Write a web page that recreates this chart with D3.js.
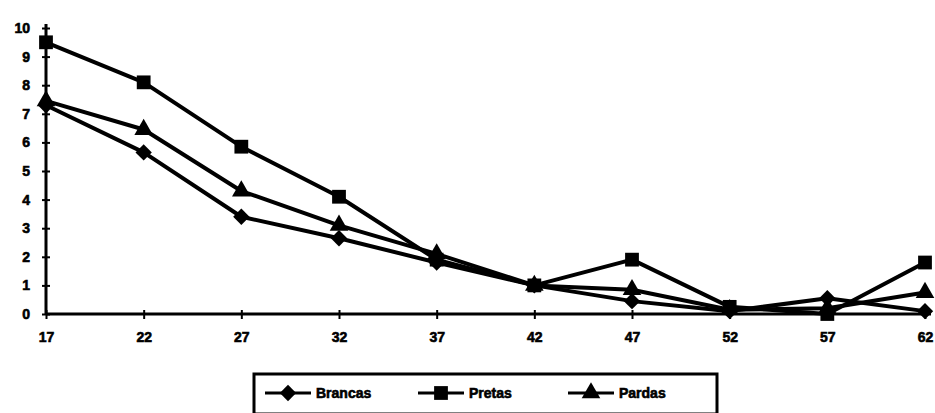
<!DOCTYPE html>
<html>
<head>
<meta charset="utf-8">
<script src="https://cdn.jsdelivr.net/npm/d3@7"></script>
<style>
  html, body { margin: 0; padding: 0; background: #fff; }
  svg { display: block; }
  text { font-family: "Liberation Sans", Arial, sans-serif; font-weight: bold; fill: #000; stroke: #000; stroke-width: 0.6px; }
</style>
</head>
<body>
<svg id="chart" width="935" height="413"></svg>
<script>
// Age groups (x axis)
const ages = ["17", "22", "27", "32", "37", "42", "47", "52", "57", "62"];
// Series values per age group
const brancas = [7.3, 5.65, 3.4, 2.65, 1.8, 1.0, 0.45, 0.1, 0.55, 0.1];
const pretas  = [9.5, 8.1, 5.85, 4.1, 1.9, 1.0, 1.9, 0.25, 0.0, 1.8];
const pardas  = [7.45, 6.45, 4.3, 3.1, 2.1, 1.0, 0.85, 0.15, 0.2, 0.75];
const yTicks = [0, 1, 2, 3, 4, 5, 6, 7, 8, 9, 10];

const series = [
  { name: "Brancas", values: brancas, symbol: d3.symbolDiamond2, size: 170 },
  { name: "Pretas",  values: pretas,  symbol: d3.symbolSquare,  size: 190 },
  { name: "Pardas",  values: pardas,  symbol: d3.symbolTriangle, size: 150 }
];

const svg = d3.select("#chart");
const x = d3.scalePoint().domain(ages).range([46, 925]);
const y = d3.scaleLinear().domain([0, 10]).range([314, 28]);

// Y axis
const yAxis = svg.append("g").attr("transform", "translate(46,0)")
  .call(d3.axisLeft(y).tickValues(yTicks).tickFormat(d3.format("d")).tickSize(4).tickPadding(12));
yAxis.select(".domain").attr("d", `M0,${y(0)}V${y(10) - 4}`).attr("stroke", "#000").attr("stroke-width", 3);
yAxis.selectAll(".tick line").attr("x1", -4).attr("x2", 4).attr("stroke", "#000").attr("stroke-width", 2);
yAxis.selectAll(".tick text").style("font-size", "14px").attr("font-family", null);

// X axis
const xAxis = svg.append("g").attr("transform", `translate(0,${y(0)})`)
  .call(d3.axisBottom(x).tickSize(4).tickPadding(14));
xAxis.select(".domain").attr("d", `M46,0H931`).attr("stroke", "#000").attr("stroke-width", 3);
xAxis.selectAll(".tick line").attr("y1", -4).attr("y2", 5).attr("stroke", "#000").attr("stroke-width", 2);
xAxis.selectAll(".tick text").style("font-size", "14px").attr("font-family", null);

// Lines and markers
const line = d3.line().x((d, i) => x(ages[i])).y(d => y(d));
series.forEach(s => {
  svg.append("path").datum(s.values)
    .attr("d", line).attr("fill", "none").attr("stroke", "#000")
    .attr("stroke-width", 4).attr("stroke-linejoin", "round");
  svg.append("g").selectAll("path").data(s.values).join("path")
    .attr("d", d3.symbol().type(s.symbol).size(s.size))
    .attr("transform", (d, i) => `translate(${x(ages[i])},${y(d)})`)
    .attr("fill", "#000");
});

// Legend
const legend = svg.append("g");
legend.append("rect").attr("x", 254).attr("y", 374).attr("width", 463).attr("height", 40)
  .attr("fill", "none").attr("stroke", "#000").attr("stroke-width", 3);
const legendX = [265, 418, 568];
series.forEach((s, i) => {
  const g = legend.append("g").attr("transform", `translate(${legendX[i]},393)`);
  g.append("line").attr("x1", 0).attr("x2", 46).attr("stroke", "#000").attr("stroke-width", 3);
  g.append("path").attr("d", d3.symbol().type(s.symbol).size(s.size)).attr("transform", "translate(23,0)");
  g.append("text").attr("x", 51).attr("y", 5).style("font-size", "14px").text(s.name);
});
</script>
</body>
</html>
